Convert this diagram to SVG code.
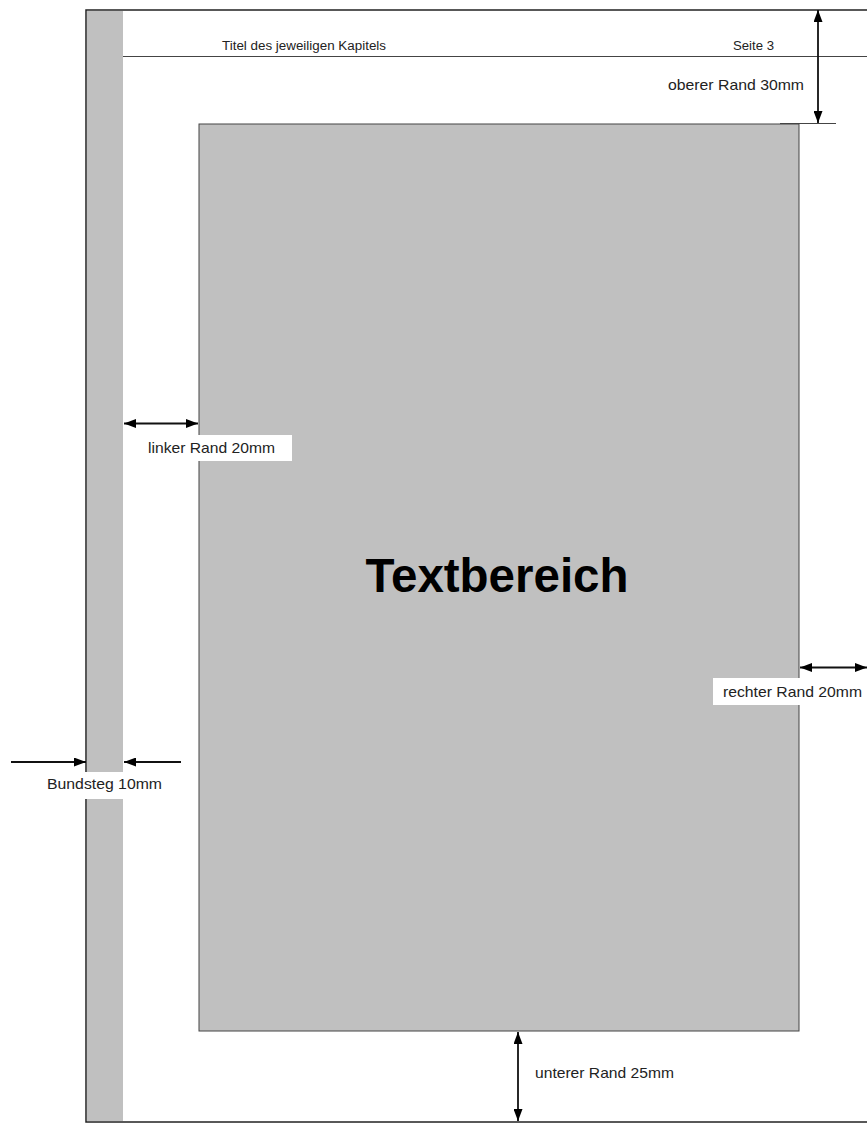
<svg xmlns="http://www.w3.org/2000/svg" width="867" height="1124" viewBox="0 0 867 1124">
<defs>
<marker id="ah" viewBox="0 0 12 9" refX="12" refY="4.5" markerWidth="12" markerHeight="9" markerUnits="userSpaceOnUse" orient="auto-start-reverse">
<path d="M0,0 L12,4.5 L0,9 Z" fill="#000"/>
</marker>
<style>
.lbl{font-family:"Liberation Sans",Arial,sans-serif;font-size:15px;fill:#222}
.small{font-family:"Liberation Sans",Arial,sans-serif;font-size:12.5px;fill:#222}
.dim{stroke:#111;stroke-width:1.8;fill:none}
.thin{stroke:#444;stroke-width:1;fill:none}
</style>
</defs>
<rect width="867" height="1124" fill="#fff"/>
<g id="page">
<rect x="86" y="10" width="790" height="1112" fill="#fff" stroke="#222" stroke-width="1.5"/>
</g>
<g id="bundsteg-strip">
<rect x="87" y="11" width="36" height="1110" fill="#c0c0c0"/>
</g>
<g id="header">
<line x1="123" y1="56.5" x2="867" y2="56.5" class="thin"/>
<text class="small" x="222" y="50" textLength="164" lengthAdjust="spacingAndGlyphs">Titel des jeweiligen Kapitels</text>
<text class="small" x="733" y="50" textLength="41" lengthAdjust="spacingAndGlyphs">Seite 3</text>
</g>
<g id="textbereich">
<rect x="199" y="124" width="600" height="907" fill="#c0c0c0" stroke="#444" stroke-width="1"/>
<text x="497" y="592" text-anchor="middle" font-family="'Liberation Sans',Arial,sans-serif" font-weight="bold" font-size="48" fill="#000" textLength="263" lengthAdjust="spacingAndGlyphs">Textbereich</text>
</g>
<g id="connectors">
<line x1="818" y1="10" x2="818" y2="123" class="dim" marker-start="url(#ah)" marker-end="url(#ah)"/>
<line x1="780" y1="123.5" x2="836" y2="123.5" class="thin"/>
<line x1="124" y1="423.5" x2="198" y2="423.5" class="dim" marker-start="url(#ah)" marker-end="url(#ah)"/>
<line x1="800" y1="667.5" x2="867" y2="667.5" class="dim" marker-start="url(#ah)" marker-end="url(#ah)"/>
<line x1="11" y1="762" x2="86" y2="762" class="dim" marker-end="url(#ah)"/>
<line x1="181" y1="762" x2="124" y2="762" class="dim" marker-end="url(#ah)"/>
<line x1="518" y1="1032" x2="518" y2="1121" class="dim" marker-start="url(#ah)" marker-end="url(#ah)"/>
</g>
<g id="label-oben">
<text class="lbl" x="668" y="90" textLength="136" lengthAdjust="spacingAndGlyphs">oberer Rand 30mm</text>
</g>
<g id="label-links">
<rect x="124" y="435" width="168" height="26" fill="#fff"/>
<text class="lbl" x="148" y="453" textLength="127" lengthAdjust="spacingAndGlyphs">linker Rand 20mm</text>
</g>
<g id="label-rechts">
<rect x="713" y="678" width="154" height="27" fill="#fff"/>
<text class="lbl" x="723" y="697" textLength="139" lengthAdjust="spacingAndGlyphs">rechter Rand 20mm</text>
</g>
<g id="label-bundsteg">
<rect x="36" y="772" width="136" height="27" fill="#fff"/>
<text class="lbl" x="47" y="789" textLength="115" lengthAdjust="spacingAndGlyphs">Bundsteg 10mm</text>
</g>
<g id="label-unten">
<text class="lbl" x="535" y="1078" textLength="139" lengthAdjust="spacingAndGlyphs">unterer Rand 25mm</text>
</g>
</svg>
